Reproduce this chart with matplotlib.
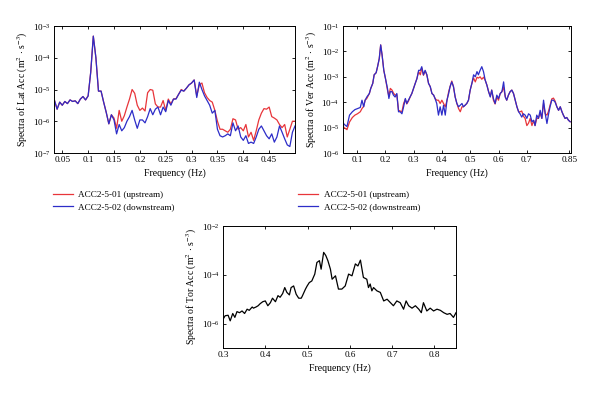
import numpy as np
import matplotlib
matplotlib.use("Agg")
import matplotlib.pyplot as plt
from matplotlib.ticker import FixedLocator, FixedFormatter, NullLocator

plt.rcParams['font.family'] = ['Liberation Serif', 'DejaVu Serif']
plt.rcParams['mathtext.fontset'] = 'stix'

# ---------------- data: lateral acceleration spectra ----------------
lat_freq = [0.035, 0.040, 0.045, 0.050, 0.055, 0.060, 0.065, 0.070, 0.075, 0.080,
            0.085, 0.090, 0.095, 0.100, 0.105, 0.110, 0.115, 0.120, 0.125, 0.130,
            0.135, 0.140, 0.145, 0.150, 0.155, 0.160, 0.165, 0.170, 0.175, 0.180,
            0.185, 0.190, 0.195, 0.200, 0.205, 0.210, 0.215, 0.220, 0.225, 0.230,
            0.235, 0.240, 0.245, 0.250, 0.255, 0.260, 0.265, 0.270, 0.275, 0.280,
            0.285, 0.290, 0.295, 0.300, 0.305, 0.310, 0.315, 0.320, 0.325, 0.330,
            0.335, 0.340, 0.345, 0.350, 0.355, 0.360, 0.365, 0.370, 0.375, 0.380,
            0.385, 0.390, 0.395, 0.400, 0.405, 0.410, 0.415, 0.420, 0.425, 0.430,
            0.435, 0.440, 0.445, 0.450, 0.455, 0.460, 0.465, 0.470, 0.475, 0.480,
            0.485, 0.490, 0.495, 0.500]
lat_up = [4.5e-6, 2.4e-6, 4.0e-6, 3.2e-6, 4.2e-6, 3.6e-6, 4.7e-6, 4.2e-6, 4.4e-6, 3.6e-6,
          5.0e-6, 6.0e-6, 4.7e-6, 6.3e-6, 3.5e-5, 4.8e-4, 1.0e-4, 8.9e-6, 8.9e-6, 4.0e-6,
          1.9e-6, 8.3e-7, 1.6e-6, 1.26e-6, 6.0e-7, 2.2e-6, 1.0e-6, 1.5e-6, 2.8e-6, 5.0e-6,
          1.0e-5, 7.6e-6, 3.2e-6, 2.2e-6, 2.6e-6, 2.1e-6, 7.9e-6, 1.0e-5, 9.5e-6, 3.5e-6,
          2.8e-6, 2.8e-6, 4.5e-6, 2.2e-6, 5.0e-6, 3.5e-6, 5.0e-6, 5.2e-6, 7.1e-6, 1.0e-5,
          8.9e-6, 1.1e-5, 1.4e-5, 1.6e-5, 2.0e-5, 6.3e-6, 1.4e-5, 1.6e-5, 7.9e-6, 5.6e-6,
          4.5e-6, 4.0e-6, 2.2e-6, 1.0e-6, 5.6e-7, 5.6e-7, 5.0e-7, 4.5e-7, 5.6e-7, 1.2e-6,
          1.1e-6, 5.6e-7, 6.3e-7, 5.0e-7, 7.9e-7, 3.2e-7, 4.5e-7, 2.5e-7, 5.0e-7, 1.1e-6,
          1.8e-6, 2.5e-6, 2.4e-6, 2.8e-6, 1.4e-6, 1.26e-6, 1.1e-6, 7.9e-7, 6.3e-7, 7.9e-7,
          3.2e-7, 5.6e-7, 1.0e-6, 1.0e-6]
lat_down = [4.5e-6, 2.4e-6, 4.0e-6, 3.2e-6, 4.2e-6, 3.6e-6, 4.7e-6, 4.2e-6, 4.4e-6, 3.6e-6,
            5.0e-6, 6.0e-6, 4.7e-6, 6.3e-6, 3.5e-5, 4.8e-4, 1.0e-4, 8.9e-6, 8.9e-6, 4.0e-6,
            1.9e-6, 8.3e-7, 1.6e-6, 1.1e-6, 4.0e-7, 7.9e-7, 5.0e-7, 6.3e-7, 1.0e-6, 1.4e-6,
            2.2e-6, 1.1e-6, 6.0e-7, 1.1e-6, 1.1e-6, 8.9e-7, 1.4e-6, 2.5e-6, 1.6e-6, 2.4e-6,
            2.8e-6, 1.6e-6, 2.8e-6, 2.0e-6, 4.5e-6, 3.2e-6, 5.0e-6, 5.0e-6, 7.1e-6, 9.5e-6,
            8.9e-6, 1.1e-5, 1.4e-5, 1.6e-5, 2.0e-5, 5.6e-6, 1.7e-5, 1.0e-5, 6.3e-6, 4.5e-6,
            3.2e-6, 1.8e-6, 2.2e-6, 5.6e-7, 3.5e-7, 3.2e-7, 3.5e-7, 4.0e-7, 3.5e-7, 8.9e-7,
            5.0e-7, 7.1e-7, 3.2e-7, 2.5e-7, 3.5e-7, 2.0e-7, 2.2e-7, 2.0e-7, 3.2e-7, 5.6e-7,
            7.1e-7, 5.0e-7, 3.5e-7, 2.8e-7, 4.0e-7, 2.2e-7, 3.2e-7, 7.1e-7, 4.5e-7, 2.8e-7,
            1.8e-7, 1.6e-7, 4.5e-7, 7.1e-7]

# ---------------- data: vertical acceleration spectra ----------------
ver_freq = [0.050, 0.055, 0.065, 0.074, 0.084, 0.093, 0.102, 0.112, 0.118, 0.124,
            0.129, 0.135, 0.144, 0.149, 0.156, 0.161, 0.168, 0.173, 0.179, 0.184,
            0.189, 0.195, 0.201, 0.208, 0.213, 0.218, 0.224, 0.229, 0.235, 0.241,
            0.247, 0.253, 0.259, 0.265, 0.271, 0.276, 0.282, 0.288, 0.294, 0.300,
            0.306, 0.312, 0.318, 0.324, 0.329, 0.335, 0.341, 0.347, 0.353, 0.359,
            0.365, 0.371, 0.376, 0.382, 0.388, 0.394, 0.400, 0.406, 0.412, 0.418,
            0.424, 0.429, 0.435, 0.441, 0.447, 0.453, 0.459, 0.465, 0.471, 0.476,
            0.482, 0.488, 0.494, 0.500, 0.506, 0.512, 0.518, 0.524, 0.529, 0.535,
            0.541, 0.547, 0.553, 0.559, 0.565, 0.571, 0.576, 0.582, 0.588, 0.594,
            0.600, 0.606, 0.612, 0.618, 0.624, 0.629, 0.635, 0.641, 0.647, 0.653,
            0.659, 0.665, 0.671, 0.676, 0.682, 0.688, 0.694, 0.700, 0.706, 0.712,
            0.718, 0.724, 0.729, 0.735, 0.741, 0.747, 0.753, 0.759, 0.765, 0.771,
            0.776, 0.782, 0.788, 0.794, 0.800, 0.806, 0.812, 0.818, 0.824, 0.829,
            0.835, 0.841, 0.847, 0.853]
ver_down = [1.7e-5, 1.35e-5, 1.1e-5, 3.1e-5, 4.2e-5, 5.1e-5, 5.6e-5, 6.2e-5, 1.2e-4, 6.6e-5,
            1.2e-4, 1.6e-4, 2.2e-4, 3.5e-4, 5.5e-4, 1.2e-3, 1.45e-3, 2.5e-3, 5.2e-3, 1.8e-2,
            7.2e-3, 1.8e-3, 8.5e-4, 3.5e-4, 1.4e-4, 2.6e-4, 2.6e-4, 1.9e-4, 1.6e-4, 2.2e-4,
            4.2e-5, 4.2e-5, 3.5e-5, 6.6e-5, 1.4e-4, 8.9e-5, 1.2e-4, 1.6e-4, 2.2e-4, 3.5e-4,
            5.5e-4, 8.5e-4, 1.8e-3, 1.8e-3, 2.5e-3, 1.2e-3, 1.8e-3, 1.2e-3, 5.5e-4, 4.1e-4,
            2.2e-4, 1.9e-4, 1.4e-4, 8.9e-5, 3.1e-5, 6.6e-5, 3.1e-5, 7.6e-5, 3.1e-5, 1.2e-4,
            2.2e-4, 4.1e-4, 6.3e-4, 4.1e-4, 1.6e-4, 8.9e-5, 6.6e-5, 7.6e-5, 8.9e-5, 6.6e-5,
            7.6e-5, 8.9e-5, 1.2e-4, 3.0e-4, 5.5e-4, 1.2e-3, 1.0e-3, 1.6e-3, 1.2e-3, 1.8e-3,
            2.5e-3, 1.6e-3, 7.4e-4, 4.7e-4, 2.6e-4, 1.6e-4, 3.0e-4, 1.4e-4, 8.9e-5, 1.9e-4,
            1.4e-4, 2.2e-4, 2.6e-4, 6.3e-4, 1.6e-4, 1.2e-4, 1.9e-4, 2.6e-4, 3.0e-4, 2.2e-4,
            1.2e-4, 6.6e-5, 4.2e-5, 3.5e-5, 2.6e-5, 3.5e-5, 3.1e-5, 2.3e-5, 3.5e-5, 3.1e-5,
            1.7e-5, 1.95e-5, 1.2e-5, 3.1e-5, 2.3e-5, 4.8e-5, 2.3e-5, 1.2e-4, 3.5e-5, 1.45e-5,
            3.1e-5, 6.6e-5, 1.2e-4, 1.2e-4, 1.0e-4, 6.6e-5, 4.8e-5, 6.6e-5, 4.2e-5, 3.1e-5,
            2.3e-5, 2.5e-5, 1.95e-5, 1.7e-5]
ver_up = [1.2e-5, 1.0e-5, 8.3e-6, 1.66e-5, 2.5e-5, 3.1e-5, 3.5e-5, 4.2e-5, 5.6e-5, 6.9e-5,
          1.2e-4, 1.4e-4, 2.2e-4, 3.5e-4, 5.5e-4, 1.2e-3, 1.45e-3, 2.5e-3, 5.2e-3, 1.8e-2,
          7.2e-3, 1.8e-3, 8.5e-4, 3.0e-4, 1.7e-4, 3.5e-4, 3.0e-4, 2.3e-4, 1.9e-4, 2.0e-4,
          4.8e-5, 4.5e-5, 4.2e-5, 8.9e-5, 1.3e-4, 8.5e-5, 1.1e-4, 1.6e-4, 2.2e-4, 3.5e-4,
          5.5e-4, 8.5e-4, 1.6e-3, 1.2e-3, 2.2e-3, 1.15e-3, 1.7e-3, 1.2e-3, 5.5e-4, 4.1e-4,
          2.2e-4, 1.9e-4, 1.4e-4, 1.2e-4, 1.2e-4, 8.9e-5, 1.2e-4, 8.9e-5, 6.6e-5, 1.15e-4,
          2.6e-4, 4.1e-4, 6.8e-4, 4.1e-4, 1.6e-4, 8.9e-5, 5.6e-5, 4.2e-5, 6.6e-5, 6.6e-5,
          7.6e-5, 8.9e-5, 1.2e-4, 3.0e-4, 5.5e-4, 9.0e-4, 6.3e-4, 9.6e-4, 8.9e-4, 1.0e-3,
          8.0e-4, 9.6e-4, 7.4e-4, 4.7e-4, 2.6e-4, 1.7e-4, 3.0e-4, 1.2e-4, 8.5e-5, 1.6e-4,
          1.2e-4, 2.2e-4, 2.6e-4, 3.8e-4, 1.6e-4, 1.2e-4, 1.9e-4, 2.6e-4, 3.0e-4, 2.2e-4,
          1.2e-4, 6.6e-5, 4.2e-5, 4.2e-5, 4.5e-5, 2.8e-5, 2.3e-5, 1.2e-5, 1.5e-5, 2.3e-5,
          1.2e-5, 1.9e-5, 1.2e-5, 2.3e-5, 2.3e-5, 3.8e-5, 2.3e-5, 9.0e-5, 3.5e-5, 3.1e-5,
          4.2e-5, 7.4e-5, 1.35e-4, 1.45e-4, 1.1e-4, 6.6e-5, 4.8e-5, 6.6e-5, 4.2e-5, 3.1e-5,
          2.3e-5, 2.5e-5, 1.95e-5, 1.7e-5]

# ---------------- data: torsional acceleration spectra ----------------
tor_freq = [0.300, 0.305, 0.312, 0.317, 0.323, 0.328, 0.333, 0.339, 0.345, 0.351,
            0.357, 0.362, 0.369, 0.372, 0.378, 0.383, 0.388, 0.394, 0.400, 0.406,
            0.412, 0.417, 0.424, 0.430, 0.435, 0.441, 0.446, 0.451, 0.457, 0.461,
            0.467, 0.473, 0.479, 0.485, 0.488, 0.495, 0.499, 0.504, 0.510, 0.517,
            0.522, 0.528, 0.532, 0.538, 0.543, 0.548, 0.554, 0.558, 0.566, 0.573,
            0.581, 0.589, 0.597, 0.605, 0.613, 0.619, 0.625, 0.632, 0.640, 0.644,
            0.648, 0.652, 0.656, 0.664, 0.672, 0.680, 0.688, 0.696, 0.703, 0.711,
            0.719, 0.727, 0.733, 0.739, 0.747, 0.755, 0.763, 0.769, 0.774, 0.782,
            0.790, 0.798, 0.806, 0.814, 0.822, 0.830, 0.837, 0.845, 0.851]
tor_val = [1.5e-6, 2.1e-6, 2.2e-6, 1.3e-6, 2.6e-6, 1.8e-6, 3.1e-6, 2.8e-6, 3.3e-6, 2.6e-6,
           3.9e-6, 3.5e-6, 4.8e-6, 4.3e-6, 4.8e-6, 5.4e-6, 6.6e-6, 7.9e-6, 8.5e-6, 5.4e-6,
           7.2e-6, 1.1e-5, 7.9e-6, 1.4e-5, 1.2e-5, 1.7e-5, 3.0e-5, 1.9e-5, 1.5e-5, 3.0e-5,
           3.5e-5, 1.6e-5, 1.1e-5, 1.1e-5, 1.4e-5, 2.6e-5, 3.5e-5, 4.8e-5, 5.6e-5, 1.07e-4,
           3.2e-4, 3.8e-4, 1.7e-4, 8.3e-4, 6.2e-4, 3.8e-4, 1.7e-4, 6.6e-5, 9.1e-5, 2.6e-5,
           2.6e-5, 3.5e-5, 1.07e-4, 9.1e-5, 2.8e-4, 2.3e-4, 4.0e-4, 7.8e-5, 6.6e-5, 3.0e-5,
           4.2e-5, 2.2e-5, 3.0e-5, 2.2e-5, 1.9e-5, 8.5e-6, 1.0e-5, 7.2e-6, 5.4e-6, 8.5e-6,
           7.2e-6, 3.9e-6, 8.5e-6, 5.4e-6, 4.3e-6, 5.4e-6, 3.9e-6, 2.8e-6, 7.2e-6, 3.3e-6,
           4.3e-6, 3.3e-6, 3.9e-6, 3.5e-6, 2.8e-6, 2.4e-6, 2.6e-6, 1.8e-6, 2.8e-6]

# ---------------- tick labels ----------------
lat_xticks = [0.05, 0.1, 0.15, 0.2, 0.25, 0.3, 0.35, 0.4, 0.45]
lat_xlabels = ['0.05', '0.1', '0.15', '0.2', '0.25', '0.3', '0.35', '0.4', '0.45']
ver_xticks = [0.1, 0.2, 0.3, 0.4, 0.5, 0.6, 0.7, 0.85]
ver_xlabels = ['0.1', '0.2', '0.3', '0.4', '0.5', '0.6', '0.7', '0.85']
tor_xticks = [0.3, 0.4, 0.5, 0.6, 0.7, 0.8]
tor_xlabels = ['0.3', '0.4', '0.5', '0.6', '0.7', '0.8']

legend_labels = ['ACC2-5-01 (upstream)', 'ACC2-5-02 (downstream)']

RED = '#e8353a'
BLUE = '#2d2dc8'
FS = 6.6

fig = plt.figure(figsize=(6.0, 3.97), dpi=100)

ax1 = fig.add_axes([0.090, 0.6146, 0.4017, 0.3199])
ax2 = fig.add_axes([0.5712, 0.6146, 0.3805, 0.3199])
ax3 = fig.add_axes([0.3717, 0.1234, 0.3883, 0.3073])


def style(ax, xticks, xlabels, xlim, ylim, yticks, ylabel):
    ax.set_yscale('log')
    ax.set_xlim(*xlim)
    ax.set_ylim(*ylim)
    ax.xaxis.set_major_locator(FixedLocator(xticks))
    ax.xaxis.set_major_formatter(FixedFormatter(xlabels))
    ax.xaxis.set_minor_locator(NullLocator())
    ax.yaxis.set_major_locator(FixedLocator(yticks))
    ax.yaxis.set_minor_locator(NullLocator())
    ax.tick_params(which='both', direction='in', top=True, right=True,
                   length=2.5, width=0.6, labelsize=FS, pad=2.5)
    for s in ax.spines.values():
        s.set_linewidth(0.7)
    ax.set_xlabel('Frequency (Hz)', fontsize=FS + 0.4, labelpad=3)
    ax.set_ylabel(ylabel, fontsize=FS + 0.4, labelpad=2)


l1, = ax1.plot(lat_freq, lat_up, color=RED, lw=0.9)
l2, = ax1.plot(lat_freq, lat_down, color=BLUE, lw=0.9)
style(ax1, lat_xticks, lat_xlabels, (0.034, 0.5), (1e-7, 1e-3),
      [1e-7, 1e-6, 1e-5, 1e-4, 1e-3],
      r'Spectra of Lat Acc (m$^2$ $\cdot$ s$^{-3}$)')
ax1.legend([l1, l2], legend_labels, loc='upper left', bbox_to_anchor=(0.088, 0.519),
           bbox_transform=fig.transFigure, frameon=False, fontsize=FS,
           handlelength=2.2, handletextpad=0.6, borderpad=0, borderaxespad=0,
           labelspacing=0.4)

r1, = ax2.plot(ver_freq, ver_up, color=RED, lw=0.9)
r2, = ax2.plot(ver_freq, ver_down, color=BLUE, lw=0.9)
style(ax2, ver_xticks, ver_xlabels, (0.05, 0.856), (1e-6, 1e-1),
      [1e-6, 1e-5, 1e-4, 1e-3, 1e-2, 1e-1],
      r'Spectra of Ver Acc (m$^2$ $\cdot$ s$^{-3}$)')
ax2.legend([r1, r2], legend_labels, loc='upper left', bbox_to_anchor=(0.497, 0.519),
           bbox_transform=fig.transFigure, frameon=False, fontsize=FS,
           handlelength=2.2, handletextpad=0.6, borderpad=0, borderaxespad=0,
           labelspacing=0.4)

ax3.plot(tor_freq, tor_val, color='black', lw=0.9)
style(ax3, tor_xticks, tor_xlabels, (0.3, 0.851), (1e-7, 1e-2),
      [1e-6, 1e-4, 1e-2],
      r'Spectra of Tor Acc (m$^2$ $\cdot$ s$^{-3}$)')

fig.savefig('out.png', dpi=100)
